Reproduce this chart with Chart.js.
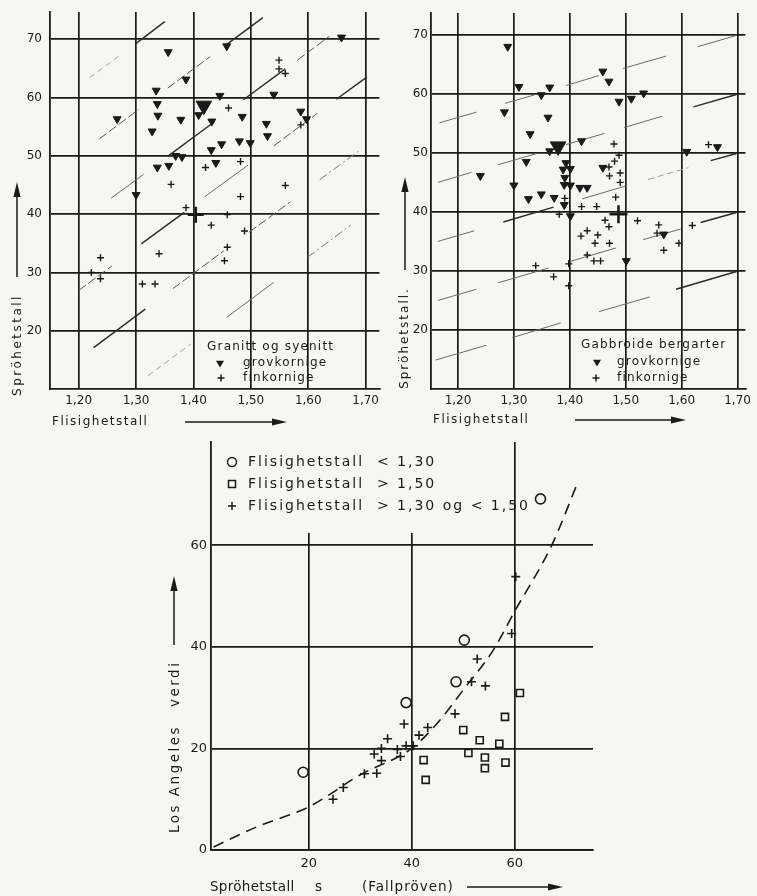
<!DOCTYPE html>
<html>
<head>
<meta charset="utf-8">
<title>Flisighetstall og sprøhetstall</title>
<script src="https://cdn.jsdelivr.net/npm/chart.js@4.4.1/dist/chart.umd.min.js"></script>
<style>
  html, body { margin: 0; padding: 0; background: #f6f6f3; }
  body { width: 757px; height: 896px; position: relative; overflow: hidden; }
  .panel { position: absolute; }
  #panel-granitt { left: 0; top: 0; width: 390px; height: 432px; }
  #panel-gabbro { left: 378px; top: 0; width: 379px; height: 432px; }
  #panel-la { left: 150px; top: 430px; width: 470px; height: 466px; }
</style>
</head>
<body>
<div class="panel" id="panel-granitt"><canvas id="chart-granitt"></canvas></div>
<div class="panel" id="panel-gabbro"><canvas id="chart-gabbro"></canvas></div>
<div class="panel" id="panel-la"><canvas id="chart-la"></canvas></div>
<script>
// ---- data ----
var FLIS_TICKS = [1.2, 1.3, 1.4, 1.5, 1.6, 1.7];
var SPRO_TICKS = [20, 30, 40, 50, 60, 70];
var LA_X_TICKS = [20, 40, 60];
var LA_Y_TICKS = [0, 20, 40, 60];

// Granitt og syenitt: [flisighetstall, sprøhetstall]
var granittGrov = [
  [1.267, 56.3], [1.356, 67.8], [1.387, 63.1], [1.335, 61.2], [1.337, 58.9], [1.338, 56.9],
  [1.328, 54.2], [1.378, 56.2], [1.409, 57.0], [1.432, 55.9], [1.446, 60.3], [1.458, 68.8],
  [1.485, 56.7], [1.431, 51.0], [1.449, 52.0], [1.480, 52.5], [1.499, 52.2], [1.439, 48.8],
  [1.369, 50.0], [1.380, 49.8], [1.337, 48.0], [1.357, 48.3], [1.300, 43.3], [1.527, 55.5],
  [1.529, 53.4], [1.540, 60.5], [1.587, 57.6], [1.597, 56.3], [1.658, 70.3]
];
var granittGrovMean = [[1.418, 58.6]];
var granittFin = [
  [1.549, 66.4], [1.549, 64.9], [1.560, 64.1], [1.461, 58.2], [1.587, 55.3], [1.482, 49.0],
  [1.421, 48.0], [1.361, 45.1], [1.560, 44.9], [1.482, 43.0], [1.387, 41.1], [1.431, 38.1],
  [1.459, 39.9], [1.489, 37.1], [1.459, 34.3], [1.454, 32.0], [1.340, 33.2], [1.238, 32.5],
  [1.222, 30.0], [1.238, 28.9], [1.311, 28.0], [1.333, 28.0]
];
var granittFinMean = [[1.404, 39.9]];

// Gabbroide bergarter
var gabbroGrov = [
  [1.289, 68.0], [1.309, 61.2], [1.349, 59.8], [1.364, 61.1], [1.283, 56.9], [1.361, 56.0],
  [1.329, 53.2], [1.364, 50.3], [1.421, 52.0], [1.459, 63.8], [1.470, 62.1], [1.488, 58.7],
  [1.510, 59.2], [1.532, 60.1], [1.322, 48.5], [1.240, 46.1], [1.300, 44.5], [1.393, 48.3],
  [1.388, 47.2], [1.401, 47.3], [1.391, 45.8], [1.390, 44.6], [1.401, 44.5], [1.418, 44.1],
  [1.431, 44.1], [1.326, 42.2], [1.349, 43.0], [1.372, 42.4], [1.390, 41.2], [1.459, 47.5],
  [1.609, 50.2], [1.664, 51.0], [1.401, 39.3], [1.501, 31.7], [1.568, 36.2]
];
var gabbroGrovMean = [[1.379, 51.1]];
var gabbroFin = [
  [1.479, 51.5], [1.488, 49.6], [1.480, 48.6], [1.470, 47.6], [1.471, 46.1], [1.490, 46.6],
  [1.490, 45.0], [1.482, 42.5], [1.391, 42.3], [1.421, 40.9], [1.448, 40.9], [1.648, 51.4],
  [1.381, 39.6], [1.463, 38.6], [1.470, 37.5], [1.431, 36.8], [1.420, 35.9], [1.450, 36.1],
  [1.445, 34.7], [1.471, 34.7], [1.431, 32.7], [1.443, 31.7], [1.455, 31.7], [1.398, 31.2],
  [1.339, 30.9], [1.371, 29.0], [1.398, 27.5], [1.521, 38.5], [1.559, 37.8], [1.556, 36.4],
  [1.568, 33.5], [1.595, 34.7], [1.619, 37.7]
];
var gabbroFinMean = [[1.487, 39.6]];

// broken diagonal guide lines: [x1, y1, x2, y2, style]
var granittGuides = [
  [1.219, 63.4, 1.270, 67.1, 'l'], [1.299, 69.2, 1.350, 73.0, 's'],
  [1.236, 52.9, 1.304, 57.9, 'd'], [1.355, 61.6, 1.429, 67.0, 'd'], [1.458, 69.1, 1.521, 73.7, 's'],
  [1.256, 42.7, 1.313, 46.8, 't'], [1.355, 49.9, 1.436, 55.8, 's'], [1.487, 59.6, 1.560, 64.9, 's'],
  [1.581, 66.4, 1.637, 70.5, 'd'],
  [1.200, 26.9, 1.258, 31.1, 'd'], [1.309, 34.9, 1.384, 40.3, 's'], [1.420, 43.0, 1.495, 48.4, 't'],
  [1.540, 51.7, 1.616, 57.3, 'd'], [1.649, 59.7, 1.702, 63.5, 's'],
  [1.226, 17.1, 1.316, 23.7, 's'], [1.364, 27.2, 1.453, 33.7, 'd'], [1.497, 36.9, 1.569, 42.1, 'd'],
  [1.620, 45.9, 1.692, 51.1, 'x'],
  [1.321, 12.3, 1.395, 17.7, 'l'], [1.458, 22.3, 1.540, 28.3, 't'], [1.599, 32.6, 1.674, 38.1, 'x']
];
var gabbroGuides = [
  [1.167, 55.1, 1.233, 56.9, 't'], [1.284, 58.4, 1.336, 59.8, 't'], [1.393, 61.4, 1.452, 63.1, 't'],
  [1.495, 64.3, 1.572, 66.4, 't'], [1.629, 68.0, 1.698, 69.9, 't'],
  [1.164, 45.0, 1.224, 46.7, 't'], [1.272, 48.0, 1.341, 49.9, 't'], [1.393, 51.4, 1.462, 53.3, 't'],
  [1.497, 54.3, 1.565, 56.2, 't'], [1.621, 57.8, 1.698, 59.9, 's'],
  [1.164, 35.0, 1.229, 36.8, 't'], [1.281, 38.3, 1.371, 40.8, 's'], [1.422, 42.2, 1.500, 44.4, 't'],
  [1.540, 45.5, 1.612, 47.5, 'l'], [1.652, 48.7, 1.698, 49.9, 's'],
  [1.164, 25.0, 1.233, 26.9, 't'], [1.272, 28.0, 1.362, 30.5, 't'], [1.400, 31.6, 1.483, 33.9, 't'],
  [1.531, 35.3, 1.598, 37.1, 't'], [1.634, 38.2, 1.698, 39.9, 's'],
  [1.160, 14.9, 1.250, 17.4, 't'], [1.297, 18.7, 1.384, 21.2, 't'], [1.452, 23.1, 1.543, 25.6, 't'],
  [1.590, 26.9, 1.698, 29.9, 's']
];

// Los Angeles verdi mot sprøhetstall s
var laUnder130 = [[18.9, 15.3], [38.9, 29.0], [48.6, 33.1], [50.2, 41.3], [65.0, 69.1]];
var laOver150 = [
  [61.0, 30.9], [58.1, 26.2], [50.0, 23.6], [53.2, 21.6], [57.0, 20.9], [51.0, 19.1],
  [54.2, 18.2], [54.2, 16.1], [58.2, 17.2], [42.3, 17.7], [42.7, 13.8]
];
var laBetween = [
  [60.2, 53.8], [59.4, 42.6], [52.7, 37.6], [51.6, 33.1], [54.3, 32.3], [48.4, 26.8],
  [38.5, 24.8], [43.1, 24.1], [41.4, 22.6], [35.3, 21.9], [34.1, 20.0], [32.7, 18.9],
  [37.2, 19.8], [38.9, 20.5], [40.3, 20.5], [34.1, 17.6], [37.8, 18.4], [33.2, 15.1],
  [30.8, 15.0], [26.7, 12.3], [24.7, 10.0]
];
var laCurve = [
  [1.5, 0.6], [10, 4.6], [20, 8.5], [30, 14.8], [40, 20.0], [45, 25.0], [50, 31.5],
  [55.8, 39.3], [60, 47.0], [67.2, 60.0], [72.3, 72.5]
];

// ---- styling ----
var INK = '#1a1a1a';
var PAGE_BG = '#f6f6f3';
var FONT = "'DejaVu Sans', sans-serif";

var GUIDE_STYLES = {
  s: { color: '#2a2a2a', width: 1.4, dash: [] },
  t: { color: '#6a6a6a', width: 1, dash: [] },
  d: { color: '#555555', width: 1, dash: [9, 3] },
  l: { color: '#9a9a9a', width: 1, dash: [6, 4] },
  x: { color: '#777777', width: 1, dash: [9, 3, 2, 3] }
};

// positions of the drawn texts, arrows and key symbols, per canvas (canvas pixels)
var DECOR = {
  'chart-granitt': {
    texts: [
      { text: 'Spröhetstall', x: 18, y: 345, size: 12, spacing: 2.5, rotate: true, align: 'center' },
      { text: 'Flisighetstall', x: 52, y: 422, size: 12, spacing: 1.5 },
      { text: 'Granitt og syenitt', x: 207, y: 347, size: 12, spacing: 1.2 },
      { text: 'grovkornige', x: 243, y: 363, size: 12, spacing: 1.2 },
      { text: 'finkornige', x: 243, y: 378, size: 12, spacing: 1.2 }
    ],
    arrows: [[185, 422, 287, 422], [17, 277, 17, 182]],
    keys: [{ shape: 'tri', x: 220, y: 363, r: 4.6 }, { shape: 'cross', x: 221, y: 378, r: 3.5 }]
  },
  'chart-gabbro': {
    texts: [
      { text: 'Spröhetstall.', x: 27, y: 338, size: 12, spacing: 2, rotate: true, align: 'center' },
      { text: 'Flisighetstall', x: 55, y: 420, size: 12, spacing: 1.5 },
      { text: 'Gabbroide bergarter', x: 203, y: 345, size: 12, spacing: 1.2 },
      { text: 'grovkornige', x: 239, y: 362, size: 12, spacing: 1.2 },
      { text: 'finkornige', x: 239, y: 378, size: 12, spacing: 1.2 }
    ],
    arrows: [[197, 420, 308, 420], [27, 270, 27, 177]],
    keys: [{ shape: 'tri', x: 219, y: 362, r: 4.6 }, { shape: 'cross', x: 218, y: 378, r: 3.5 }]
  },
  'chart-la': {
    texts: [
      { text: 'Los Angeles', x: 25, y: 403, size: 13.5, spacing: 2.5, rotate: true },
      { text: 'verdi', x: 25, y: 277, size: 13.5, spacing: 2.5, rotate: true },
      { text: 'Spröhetstall', x: 60, y: 457, size: 13.5, spacing: 0.3 },
      { text: 's', x: 165, y: 457, size: 13.5, spacing: 0 },
      { text: '(Fallpröven)', x: 212, y: 457, size: 13.5, spacing: 1 },
      { text: 'Flisighetstall  < 1,30', x: 98, y: 32, size: 14, spacing: 2 },
      { text: 'Flisighetstall  > 1,50', x: 98, y: 54, size: 14, spacing: 2 },
      { text: 'Flisighetstall  > 1,30 og < 1,50', x: 98, y: 76, size: 14, spacing: 2 }
    ],
    arrows: [[317, 457, 413, 457], [24, 215, 24, 146]],
    keys: [
      { shape: 'circle', x: 82, y: 32, r: 4.5 },
      { shape: 'square', x: 82, y: 54, r: 3.5 },
      { shape: 'cross', x: 82, y: 76, r: 4 }
    ],
    mask: { xTo: 60, yFrom: 62.4 }
  }
};

function pairs(list) {
  return list.map(function (p) {
    return { x: p[0], y: p[1] };
  });
}

function markerSet(list, kind, radius, lineWidth) {
  var set = {
    data: pairs(list),
    order: 0,
    showLine: false,
    pointRadius: radius,
    pointHoverRadius: radius,
    pointBorderColor: INK,
    pointBorderWidth: lineWidth || 1.5,
    pointBackgroundColor: 'rgba(0,0,0,0)'
  };
  if (kind === 'tri') {
    set.pointStyle = 'triangle';
    set.pointRotation = 180;
    set.pointBackgroundColor = INK;
    set.pointBorderWidth = 1;
  } else if (kind === 'cross') {
    set.pointStyle = 'cross';
  } else if (kind === 'circle') {
    set.pointStyle = 'circle';
  } else if (kind === 'square') {
    set.pointStyle = 'rect';
  }
  return set;
}

function guideSets(list) {
  return list.map(function (g) {
    var st = GUIDE_STYLES[g[4]];
    return {
      data: [{ x: g[0], y: g[1] }, { x: g[2], y: g[3] }],
      order: 2,
      showLine: true,
      pointRadius: 0,
      borderColor: st.color,
      borderWidth: st.width,
      borderDash: st.dash,
      fill: false
    };
  });
}

function axis(o) {
  return {
    type: 'linear',
    min: o.min,
    max: o.max,
    afterBuildTicks: function (scale) {
      scale.ticks = o.ticks.map(function (v) {
        return { value: v };
      });
    },
    afterFit: function (scale) {
      if (scale.isHorizontal()) {
        scale.height = o.size;
      } else {
        scale.width = o.size;
      }
      scale.paddingLeft = 0;
      scale.paddingRight = 0;
      scale.paddingTop = 0;
      scale.paddingBottom = 0;
    },
    grid: { color: INK, lineWidth: 1.7, drawTicks: false },
    border: { display: true, color: INK, width: 1.8 },
    ticks: {
      autoSkip: false,
      maxRotation: 0,
      padding: o.pad,
      color: INK,
      font: { family: FONT, size: o.fontSize },
      callback: o.format
    }
  };
}

function flisLabel(v) {
  return v.toFixed(2).replace('.', ',');
}

function plainLabel(v) {
  return String(v);
}

function drawText(ctx, t) {
  ctx.save();
  ctx.font = t.size + 'px ' + FONT;
  ctx.letterSpacing = (t.spacing || 0) + 'px';
  ctx.textAlign = t.align || 'left';
  ctx.textBaseline = 'middle';
  ctx.translate(t.x, t.y);
  if (t.rotate) ctx.rotate(-Math.PI / 2);
  ctx.fillText(t.text, 0, 0);
  ctx.restore();
}

function drawArrow(ctx, a) {
  var ang = Math.atan2(a[3] - a[1], a[2] - a[0]);
  var len = Math.hypot(a[2] - a[0], a[3] - a[1]);
  ctx.save();
  ctx.translate(a[0], a[1]);
  ctx.rotate(ang);
  ctx.lineWidth = 1.5;
  ctx.beginPath();
  ctx.moveTo(0, 0);
  ctx.lineTo(len - 10, 0);
  ctx.stroke();
  ctx.beginPath();
  ctx.moveTo(len, 0);
  ctx.lineTo(len - 15, -3.6);
  ctx.lineTo(len - 15, 3.6);
  ctx.closePath();
  ctx.fill();
  ctx.restore();
}

function drawKey(ctx, k) {
  ctx.save();
  ctx.lineWidth = 1.5;
  ctx.beginPath();
  if (k.shape === 'tri') {
    ctx.moveTo(k.x - k.r * 0.87, k.y - k.r * 0.5);
    ctx.lineTo(k.x + k.r * 0.87, k.y - k.r * 0.5);
    ctx.lineTo(k.x, k.y + k.r);
    ctx.closePath();
    ctx.fill();
  } else if (k.shape === 'cross') {
    ctx.moveTo(k.x - k.r, k.y);
    ctx.lineTo(k.x + k.r, k.y);
    ctx.moveTo(k.x, k.y - k.r);
    ctx.lineTo(k.x, k.y + k.r);
    ctx.stroke();
  } else if (k.shape === 'circle') {
    ctx.arc(k.x, k.y, k.r, 0, Math.PI * 2);
    ctx.stroke();
  } else if (k.shape === 'square') {
    ctx.strokeRect(k.x - k.r, k.y - k.r, k.r * 2, k.r * 2);
  }
  ctx.restore();
}

var decorPlugin = {
  id: 'figureDecor',
  beforeDatasetsDraw: function (chart) {
    var cfg = DECOR[chart.canvas.id];
    if (!cfg || !cfg.mask) return;
    // the key box hides the upper part of the inner grid lines
    var area = chart.chartArea;
    var right = chart.scales.x.getPixelForValue(cfg.mask.xTo) - 3;
    var bottom = chart.scales.y.getPixelForValue(cfg.mask.yFrom);
    var ctx = chart.ctx;
    ctx.save();
    ctx.fillStyle = PAGE_BG;
    ctx.fillRect(area.left + 1.5, area.top - 2, right - area.left - 1.5, bottom - area.top + 2);
    ctx.restore();
  },
  afterDraw: function (chart) {
    var cfg = DECOR[chart.canvas.id];
    if (!cfg) return;
    var ctx = chart.ctx;
    ctx.save();
    ctx.fillStyle = INK;
    ctx.strokeStyle = INK;
    cfg.texts.forEach(function (t) { drawText(ctx, t); });
    cfg.arrows.forEach(function (a) { drawArrow(ctx, a); });
    cfg.keys.forEach(function (k) { drawKey(ctx, k); });
    ctx.restore();
  }
};

function baseOptions(xAxis, yAxis, padding) {
  return {
    responsive: true,
    maintainAspectRatio: false,
    animation: false,
    events: [],
    layout: { padding: padding },
    plugins: { legend: { display: false }, tooltip: { enabled: false } },
    scales: { x: xAxis, y: yAxis }
  };
}

new Chart(document.getElementById('chart-granitt'), {
  type: 'scatter',
  data: {
    datasets: [
      markerSet(granittGrovMean, 'tri', 9),
      markerSet(granittFinMean, 'cross', 8, 2.6),
      markerSet(granittGrov, 'tri', 4.6),
      markerSet(granittFin, 'cross', 3.5, 1.4)
    ].concat(guideSets(granittGuides))
  },
  options: baseOptions(
    axis({ min: 1.15, max: 1.724, ticks: FLIS_TICKS, size: 43, pad: 5, fontSize: 12, format: flisLabel }),
    axis({ min: 10, max: 74.66, ticks: SPRO_TICKS, size: 50, pad: 8, fontSize: 12, format: plainLabel }),
    { left: 0, top: 12, right: 5, bottom: 0 }
  ),
  plugins: [decorPlugin]
});

new Chart(document.getElementById('chart-gabbro'), {
  type: 'scatter',
  data: {
    datasets: [
      markerSet(gabbroGrovMean, 'tri', 9),
      markerSet(gabbroFinMean, 'cross', 9, 2.6),
      markerSet(gabbroGrov, 'tri', 4.6),
      markerSet(gabbroFin, 'cross', 3.5, 1.4)
    ].concat(guideSets(gabbroGuides))
  },
  options: baseOptions(
    axis({ min: 1.1517, max: 1.714, ticks: FLIS_TICKS, size: 43, pad: 5, fontSize: 12, format: flisLabel }),
    axis({ min: 10, max: 73.7, ticks: SPRO_TICKS, size: 53, pad: 3, fontSize: 12, format: plainLabel }),
    { left: 0, top: 13, right: 0, bottom: 0 }
  ),
  plugins: [decorPlugin]
});

new Chart(document.getElementById('chart-la'), {
  type: 'scatter',
  data: {
    datasets: [
      markerSet(laUnder130, 'circle', 5, 1.6),
      markerSet(laOver150, 'square', 5, 1.6),
      markerSet(laBetween, 'cross', 4.5, 1.6),
      {
        data: pairs(laCurve),
        order: 2,
        showLine: true,
        pointRadius: 0,
        borderColor: INK,
        borderWidth: 1.6,
        borderDash: [11, 7],
        cubicInterpolationMode: 'monotone',
        fill: false
      }
    ]
  },
  options: baseOptions(
    axis({ min: 1, max: 75.2, ticks: LA_X_TICKS, size: 46, pad: 6, fontSize: 13, format: plainLabel }),
    axis({ min: 0, max: 80.3, ticks: LA_Y_TICKS, size: 61, pad: 4, fontSize: 13, format: plainLabel }),
    { left: 0, top: 12, right: 27, bottom: 0 }
  ),
  plugins: [decorPlugin]
});
</script>
</body>
</html>
